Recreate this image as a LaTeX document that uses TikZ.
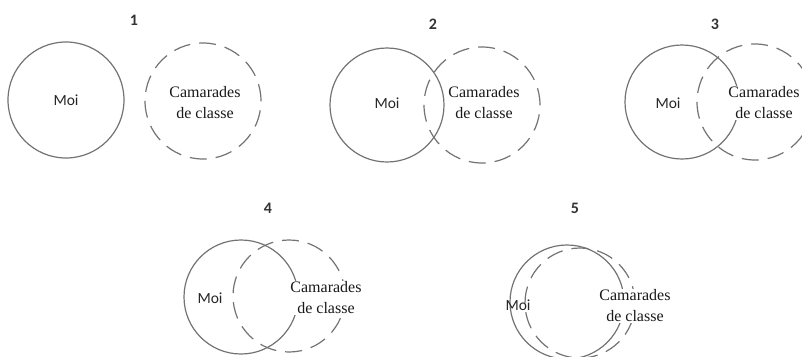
\documentclass[tikz,border=0pt]{standalone}
\usepackage{fontspec}
\setmainfont{Liberation Serif}
\newfontfamily\calfont{Carlito}

\begin{document}
\begin{tikzpicture}[x=1pt,y=-1pt]
	\tikzset{every node/.style={inner sep=1pt}}
	\tikzset{soi/.style={circle,draw=black!55,line width=1.2pt,minimum size=#1}}
	\tikzset{autres/.style={soi=#1,dash pattern=on 17pt off 9pt}}
	\tikzset{nom/.style={font=\calfont\fontsize{15.5}{18}\selectfont,text=black!85}}
	\tikzset{groupe/.style={fill=white,align=center,font=\fontsize{16}{21}\selectfont,text=black!90}}
	\tikzset{numero/.style={font=\calfont\bfseries\fontsize{16}{18}\selectfont,text=black!80}}
	\useasboundingbox (0,0) rectangle (802,356);
	% 1 : separate
	\node[numero] (n1) at (134,20) {1};
	\node[autres=116pt] (c1) at (203,101) {};
	\node[soi=116pt] (m1) at (66,100) {};
	\node[nom] (moi1) at (66,100) {Moi};
	\node[groupe] (cam1) at (205,103) {Camarades\\de classe};
	% 2 : touching
	\node[numero] (n2) at (433,24) {2};
	\node[autres=116pt] (c2) at (482,105) {};
	\node[soi=114pt] (m2) at (387,105) {};
	\node[nom] (moi2) at (387,103) {Moi};
	\node[groupe] (cam2) at (484,103) {Camarades\\de classe};
	% 3
	\node[numero] (n3) at (715,24) {3};
	\node[autres=116pt] (c3) at (755,102) {};
	\node[soi=114pt] (m3) at (682,102) {};
	\node[nom] (moi3) at (668,103) {Moi};
	\node[groupe] (cam3) at (764,103) {Camarades\\de classe};
	% 4
	\node[numero] (n4) at (268,208) {4};
	\node[autres=112pt] (c4) at (289,296) {};
	\node[soi=114pt] (m4) at (241,297) {};
	\node[nom] (moi4) at (210,298) {Moi};
	\node[groupe] (cam4) at (326,298) {Camarades\\de classe};
	% 5 : almost the same
	\node[numero] (n5) at (575,208) {5};
	\node[autres=110pt] (c5) at (580,303) {};
	\node[soi=114pt] (m5) at (567,302) {};
	\node[nom] (moi5) at (518,305) {Moi};
	\node[groupe] (cam5) at (635,306) {Camarades\\de classe};
\end{tikzpicture}
\end{document}
